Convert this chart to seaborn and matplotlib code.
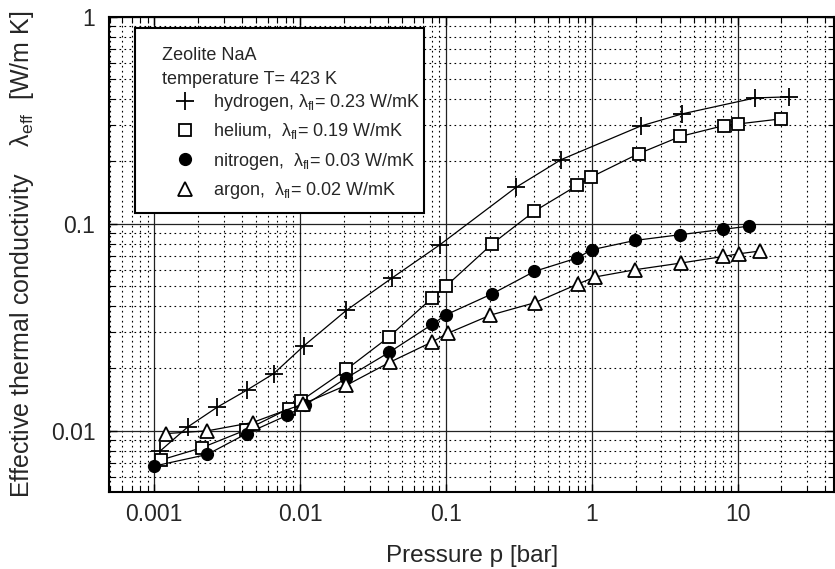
import numpy as np
import pandas as pd
import matplotlib
matplotlib.use("Agg")
import matplotlib.pyplot as plt
from matplotlib.lines import Line2D
from matplotlib.patches import Rectangle
from matplotlib.ticker import FixedLocator, FixedFormatter, LogLocator, NullFormatter
import seaborn as sns

# Measured effective thermal conductivity of zeolite NaA beds, T = 423 K
h2_p = [0.0011, 0.0017, 0.0027, 0.0043, 0.0066, 0.0106, 0.0208, 0.0427, 0.0906,
        0.303, 0.617, 2.16, 4.16, 13.2, 22.6]
h2_k = [0.0080, 0.01045, 0.0130, 0.0157, 0.0189, 0.0257, 0.0382, 0.0547, 0.079,
        0.150, 0.204, 0.296, 0.339, 0.405, 0.410]

he_p = [0.00111, 0.00211, 0.00425, 0.00837, 0.0102, 0.0208, 0.0407, 0.0803, 0.100,
        0.208, 0.405, 0.794, 0.99, 2.10, 4.06, 8.1, 10.0, 20.0]
he_k = [0.00723, 0.00828, 0.0101, 0.0128, 0.0140, 0.0198, 0.0284, 0.0438, 0.0499,
        0.080, 0.115, 0.153, 0.168, 0.218, 0.264, 0.298, 0.303, 0.321]

n2_p = [0.001, 0.00231, 0.0043, 0.0082, 0.0108, 0.0205, 0.0407, 0.0807, 0.1007,
        0.208, 0.405, 0.794, 1.0, 1.99, 4.03, 7.9, 11.9]
n2_k = [0.00676, 0.00769, 0.0097, 0.0119, 0.0133, 0.0179, 0.0239, 0.0327, 0.0364,
        0.0459, 0.0589, 0.0683, 0.0749, 0.0831, 0.0885, 0.0939, 0.0973]

ar_p = [0.0012, 0.00231, 0.00472, 0.0105, 0.0208, 0.0416, 0.0807, 0.103, 0.202,
        0.409, 0.80, 1.05, 1.99, 4.09, 7.98, 10.2, 14.2]
ar_k = [0.0097, 0.0100, 0.01097, 0.0135, 0.0166, 0.0215, 0.0269, 0.0296, 0.0362,
        0.0416, 0.0511, 0.0553, 0.0600, 0.0646, 0.0695, 0.0716, 0.0738]

gases = ["hydrogen", "helium", "nitrogen", "argon"]
lambda_fl = ["0.23", "0.19", "0.03", "0.02"]
legend_title = ["Zeolite NaA", "temperature T= 423 K"]

x_ticks = [0.001, 0.01, 0.1, 1, 10]
x_ticklabels = ["0.001", "0.01", "0.1", "1", "10"]
y_ticks = [0.01, 0.1, 1]
y_ticklabels = ["0.01", "0.1", "1"]

df = pd.concat([
    pd.DataFrame({"gas": "hydrogen", "p": h2_p, "k": h2_k}),
    pd.DataFrame({"gas": "helium", "p": he_p, "k": he_k}),
    pd.DataFrame({"gas": "nitrogen", "p": n2_p, "k": n2_k}),
    pd.DataFrame({"gas": "argon", "p": ar_p, "k": ar_k}),
], ignore_index=True)

sns.set_style("ticks")
plt.rcParams["font.family"] = ["Liberation Sans", "DejaVu Sans"]
plt.rcParams["mathtext.fontset"] = "custom"
plt.rcParams["mathtext.rm"] = "Liberation Sans"
plt.rcParams["mathtext.it"] = "Liberation Sans:italic"

marker_style = {
    "hydrogen": dict(marker="+", markersize=13, markeredgewidth=1.3,
                     markerfacecolor="black", markeredgecolor="black"),
    "helium": dict(marker="s", markersize=8, markeredgewidth=1.3,
                   markerfacecolor="white", markeredgecolor="black"),
    "nitrogen": dict(marker="o", markersize=8.5, markeredgewidth=1.0,
                     markerfacecolor="black", markeredgecolor="black"),
    "argon": dict(marker="^", markersize=9.5, markeredgewidth=1.3,
                  markerfacecolor="white", markeredgecolor="black"),
}

W, H = 835, 569
fig = plt.figure(figsize=(W / 100, H / 100), dpi=100)
ax = fig.add_axes([0.1309, 0.1348, 0.868, 0.836])
ax.set_xscale("log")
ax.set_yscale("log")

for gas in gases:
    sub = df[df["gas"] == gas]
    sns.lineplot(data=sub, x="p", y="k", ax=ax, color="black", linewidth=0.9,
                 sort=False, estimator=None, legend=False, zorder=3,
                 **marker_style[gas])

ax.set_xlim(0.000492, 45.9)
ax.set_ylim(0.00505, 1.0)

ax.xaxis.set_major_locator(FixedLocator(x_ticks))
ax.xaxis.set_major_formatter(FixedFormatter(x_ticklabels))
ax.yaxis.set_major_locator(FixedLocator(y_ticks))
ax.yaxis.set_major_formatter(FixedFormatter(y_ticklabels))
ax.xaxis.set_minor_locator(LogLocator(base=10, subs=np.arange(2, 10), numticks=20))
ax.yaxis.set_minor_locator(LogLocator(base=10, subs=np.arange(2, 10), numticks=20))
ax.xaxis.set_minor_formatter(NullFormatter())
ax.yaxis.set_minor_formatter(NullFormatter())

ax.grid(which="major", color="#222222", linewidth=0.9, linestyle="-", zorder=1)
ax.grid(which="minor", color="black", linewidth=0.8, linestyle=(0, (1.5, 3)), zorder=1)
ax.set_axisbelow(True)

ax.tick_params(which="both", direction="in", top=True, right=True, color="black")
ax.tick_params(which="major", length=6, width=1.0, labelsize=16.5)
ax.tick_params(which="minor", length=4.5, width=0.8)
ax.tick_params(axis="x", which="major", pad=7.5)
ax.tick_params(axis="y", which="major", pad=10)
for sp in ax.spines.values():
    sp.set_color("black")
    sp.set_linewidth(1.5)

ax.set_xlabel("Pressure p [bar]", fontsize=17.5, labelpad=14)
ax.set_ylabel(r"Effective thermal conductivity    $\mathregular{\lambda_{eff}}$  [W/m K]",
              fontsize=18, labelpad=11)


def fp(x, y):
    """Pixel position measured from the top-left corner -> figure fraction."""
    return x / W, 1 - y / H


# Legend box with a two-line heading and one marker row per gas
x0, y0 = fp(135, 213.3)
x1, y1 = fp(424.3, 28.3)
ax.add_patch(Rectangle((x0, y0), x1 - x0, y1 - y0, transform=fig.transFigure,
                       facecolor="white", edgecolor="black", linewidth=1.5,
                       zorder=6, clip_on=False))
for line, base in zip(legend_title, [59.5, 83.5]):
    ax.text(*fp(162.3, base), line, transform=fig.transFigure, fontsize=13,
            ha="left", va="baseline", zorder=7)

row_base = [107.3, 136.2, 165.8, 195.0]
for gas, val, base in zip(gases, lambda_fl, row_base):
    sep = " " if gas == "hydrogen" else "  "
    label = f"{gas},{sep}" + r"$\mathregular{\lambda_{fl}}$= " + f"{val} W/mK"
    ax.add_line(Line2D([fp(185, 0)[0]], [fp(0, base - 6.5)[1]], linestyle="none",
                       transform=fig.transFigure, zorder=7, clip_on=False,
                       **marker_style[gas]))
    ax.text(*fp(213.3, base), label, transform=fig.transFigure, fontsize=13,
            ha="left", va="baseline", zorder=7)

fig.savefig("out.png", dpi=100)
